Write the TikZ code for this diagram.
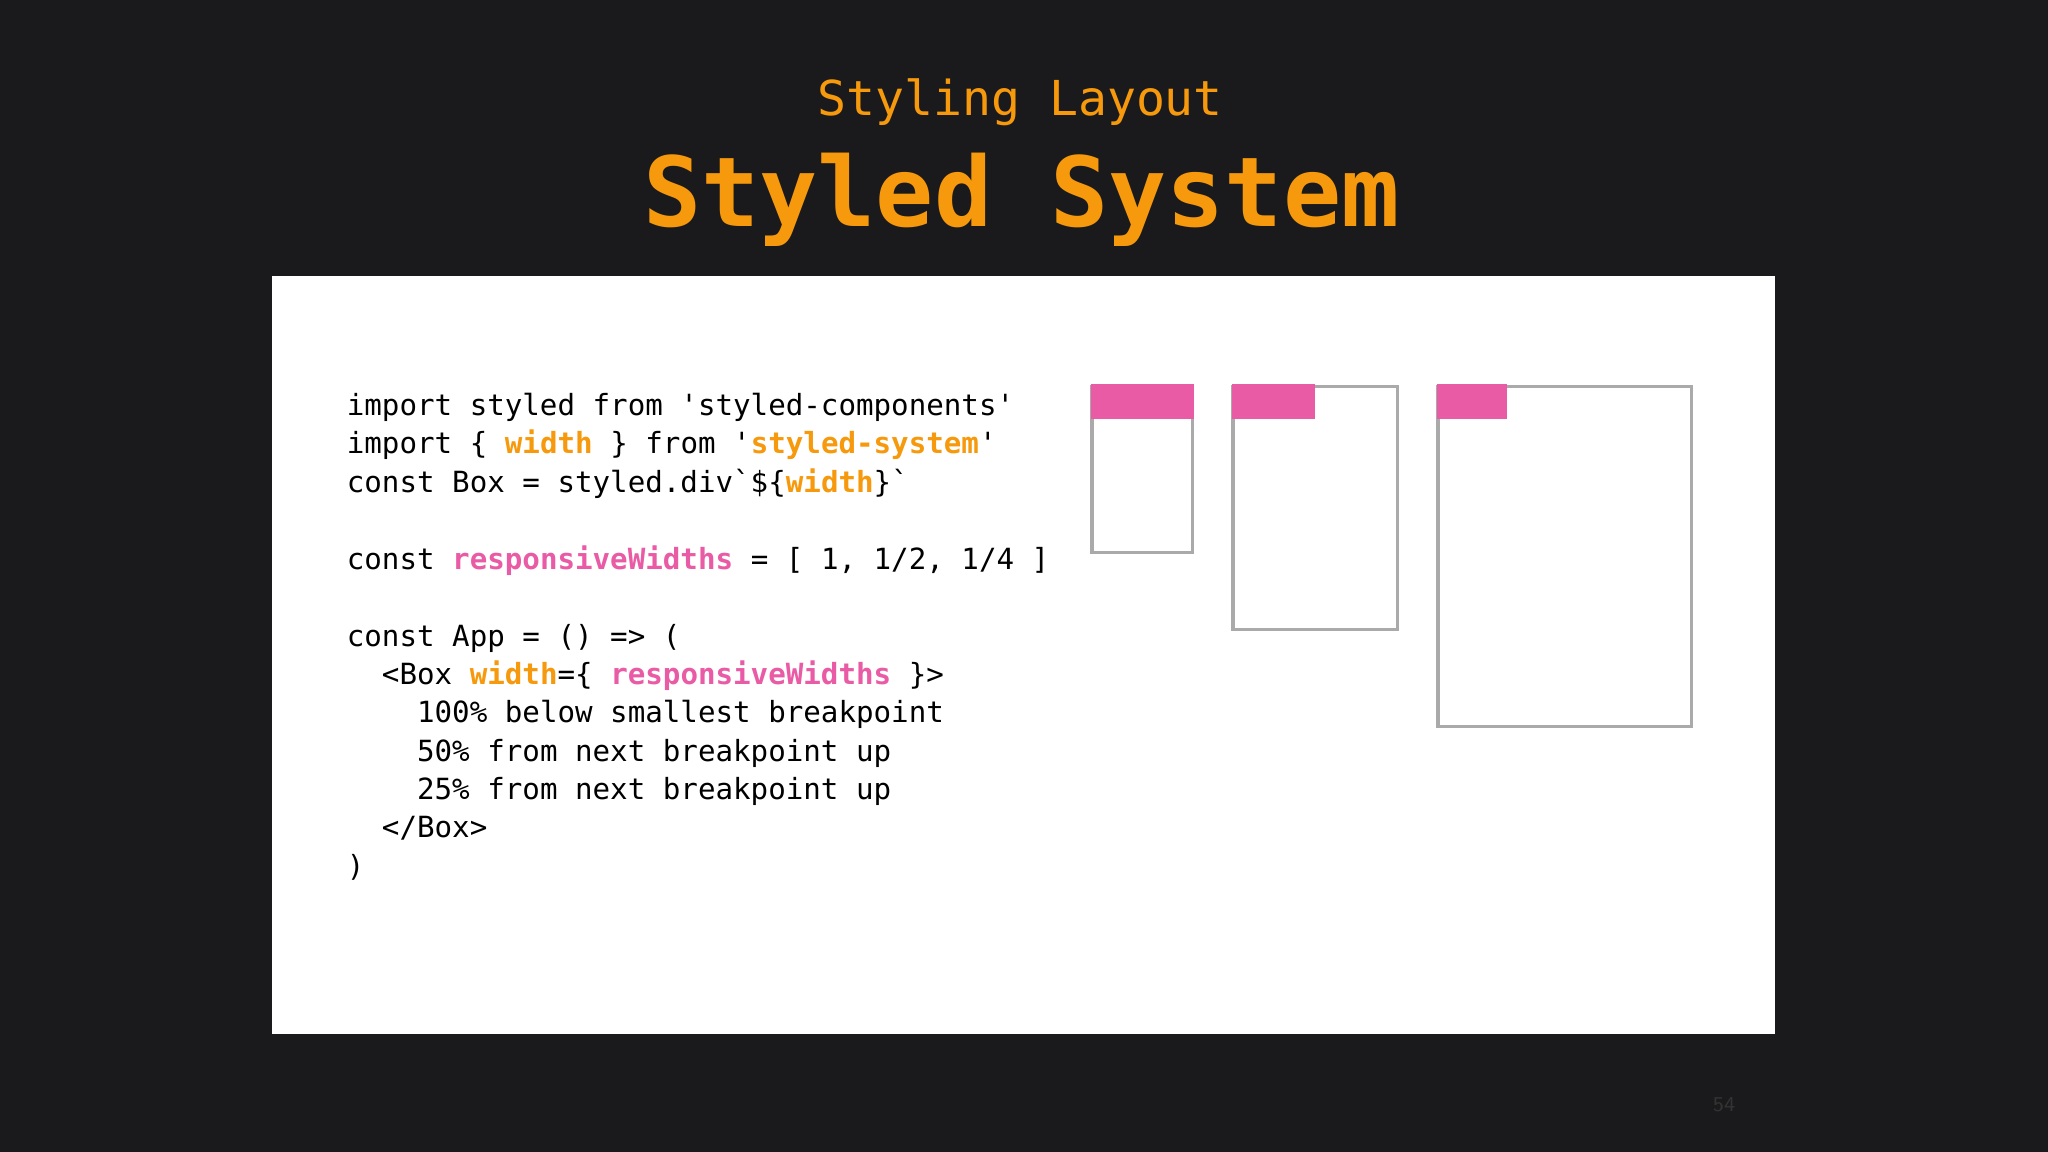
\documentclass[tikz,border=0pt]{standalone}
\usepackage{fontspec}
\newfontfamily\code{DejaVu Sans Mono}
\definecolor{bg}{HTML}{1A1A1C}
\definecolor{org}{HTML}{F7990C}
\definecolor{pnk}{HTML}{EA5BA6}
\definecolor{gry}{HTML}{AAAAAA}
\newcommand{\hlO}[1]{\textcolor{org}{\bfseries #1}}
\newcommand{\hlP}[1]{\textcolor{pnk}{\bfseries #1}}
\tikzset{codeline/.style={anchor=base west,inner sep=0pt,font=\code\fontsize{8.3pt}{10pt}\selectfont,text=black},
frame/.style={draw=gry,line width=0.9pt},
bar/.style={fill=pnk}}
\begin{document}
\begin{tikzpicture}[x=0.013061cm,y=-0.013061cm]
\fill[bg] (0,0) rectangle (1568,882);
\useasboundingbox (0,0) rectangle (1568,882);
\node[text=org,font=\code\fontsize{13.7pt}{16pt}\selectfont] (sub) at (781,78) {Styling Layout};
\node[text=org,font=\code\bfseries\fontsize{27.5pt}{30pt}\selectfont] (ttl) at (782,153) {Styled System};
\fill[white] (208,211) rectangle (1359,792);
\node[codeline] (l1) at (265,318) {import styled from 'styled-components'};
\node[codeline] (l2) at (265,347) {import \{ \hlO{width} \} from '\hlO{styled-system}'};
\node[codeline] (l3) at (265,377) {const Box = styled.div`\$\{\hlO{width}\}`};
\node[codeline] (l4) at (265,436) {const \hlP{responsiveWidths} = [ 1, 1/2, 1/4 ]};
\node[codeline] (l5) at (265,495) {const App = () => (};
\node[codeline] (l6) at (265,524) {\ \ <Box \hlO{width}=\{ \hlP{responsiveWidths} \}>};
\node[codeline] (l7) at (265,553) {\ \ \ \ 100\% below smallest breakpoint};
\node[codeline] (l8) at (265,583) {\ \ \ \ 50\% from next breakpoint up};
\node[codeline] (l9) at (265,612) {\ \ \ \ 25\% from next breakpoint up};
\node[codeline] (l10) at (265,641) {\ \ </Box>};
\node[codeline] (l11) at (265,671) {)};
\draw[frame] (836,296) rectangle (913,423);
\fill[bar] (835,294) rectangle (914,321);
\draw[frame] (944,296) rectangle (1070,482);
\fill[bar] (943,294) rectangle (1007,321);
\draw[frame] (1101,296) rectangle (1295,556);
\fill[bar] (1100,294) rectangle (1154,321);
\node[text=black!80,font=\sffamily\fontsize{6pt}{7pt}\selectfont] (pg) at (1320,846) {54};
\end{tikzpicture}
\end{document}
